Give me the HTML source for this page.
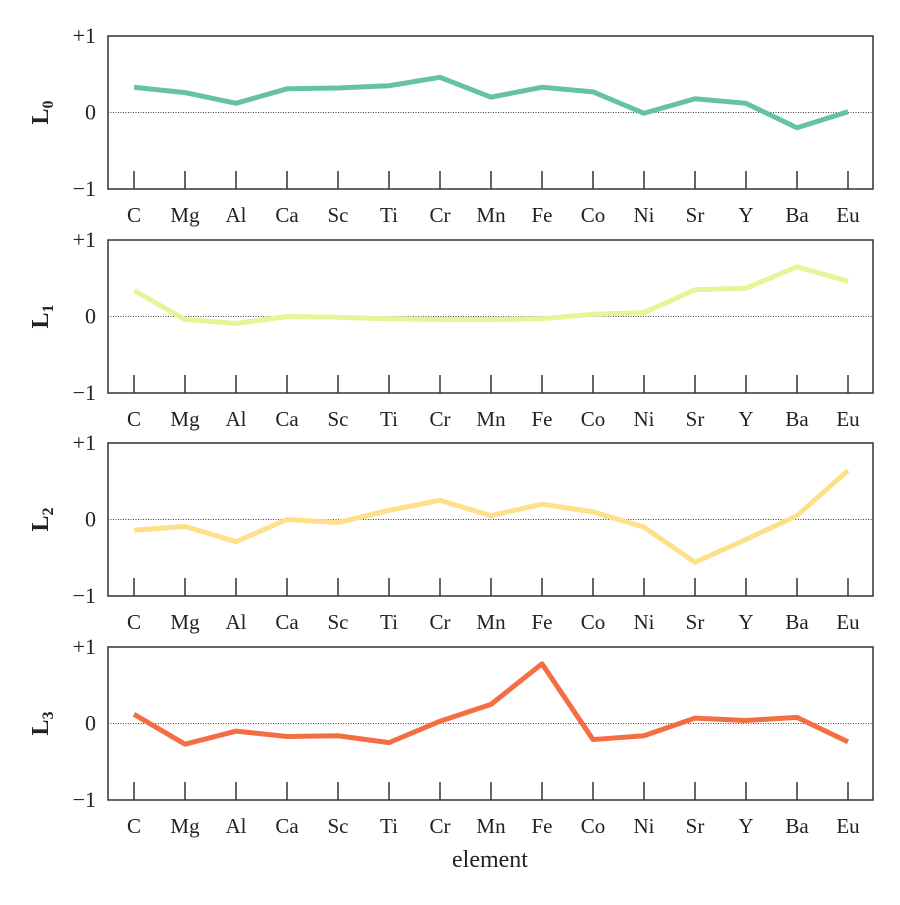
<!DOCTYPE html>
<html><head><meta charset="utf-8"><style>
html,body{margin:0;padding:0;background:#fff;}
svg text{font-family:"Liberation Serif","DejaVu Serif",serif;fill:#222;}
</style></head><body>
<svg id="chart" width="900" height="900" viewBox="0 0 900 900" xmlns="http://www.w3.org/2000/svg"></svg>
<script>
const categories = ["C","Mg","Al","Ca","Sc","Ti","Cr","Mn","Fe","Co","Ni","Sr","Y","Ba","Eu"];
const seriesL0 = [0.33,0.26,0.12,0.31,0.32,0.35,0.46,0.20,0.33,0.27,-0.01,0.18,0.12,-0.20,0.01];
const seriesL1 = [0.34,-0.04,-0.09,0.00,-0.01,-0.03,-0.04,-0.04,-0.03,0.03,0.05,0.35,0.37,0.65,0.46];
const seriesL2 = [-0.14,-0.09,-0.29,0.00,-0.04,0.12,0.25,0.05,0.20,0.10,-0.10,-0.56,-0.26,0.05,0.64];
const seriesL3 = [0.12,-0.27,-0.10,-0.17,-0.16,-0.25,0.03,0.25,0.78,-0.21,-0.16,0.07,0.04,0.08,-0.24];
const yTickLabels = ["+1","0","\u22121"];
const yTickValues = [1,0,-1];
const seriesAll = [seriesL0,seriesL1,seriesL2,seriesL3];
const colors = ["#66c2a5","#e6f598","#fee08b","#f46d43"];
const panelTops = [36,240,443,647];
const NS="http://www.w3.org/2000/svg";
const svg=document.getElementById('chart');
const left=108,right=873,ph=153;
function xPos(i){return 134+i*(848-134)/(categories.length-1);}
function mk(tag,attrs,parent){const e=document.createElementNS(NS,tag);for(const k in attrs)e.setAttribute(k,attrs[k]);(parent||svg).appendChild(e);return e;}
seriesAll.forEach((vals,p)=>{
  const top=panelTops[p];
  const yPos=v=>top+ph/2-v*(ph/2);
  const g=mk('g',{});
  
  
  const zl=mk('line',{x1:left,x2:right,y1:yPos(0),y2:yPos(0),stroke:'#000','stroke-width':0.8,'stroke-dasharray':'1,1.5'},g);
  
  
  const pts=vals.map((v,i)=>xPos(i)+','+yPos(v)).join(' ');
  const pl=mk('polyline',{points:pts,fill:'none',stroke:colors[p],'stroke-width':5,'stroke-linejoin':'round'},g);
  
  
  const fr=mk('rect',{x:left,y:top,width:right-left,height:ph,fill:'none',stroke:'#333','stroke-width':1.5},g);
  
  
  categories.forEach((c,i)=>{
    const t=mk('line',{x1:xPos(i),x2:xPos(i),y1:top+ph,y2:top+ph-18,stroke:'#333','stroke-width':1.5},g);
    
    
    const l=mk('text',{x:xPos(i),y:top+ph+33,'text-anchor':'middle','font-size':21},g);
    l.textContent=c;
    
    
  });
  yTickValues.forEach((v,k)=>{
    const l=mk('text',{x:96,y:yPos(v)+7,'text-anchor':'end','font-size':22},g);
    l.textContent=yTickLabels[k];
    
    
  });
  const yt=mk('text',{transform:`translate(48,${top+ph/2}) rotate(-90)`,'text-anchor':'middle','font-size':24,'font-weight':'bold'},g);
  yt.innerHTML='L<tspan font-size="16" dy="5">'+p+'</tspan>';
  
  
});
const xt=mk('text',{x:490,y:867,'text-anchor':'middle','font-size':24});
xt.textContent='element';


</script>
</body></html>
